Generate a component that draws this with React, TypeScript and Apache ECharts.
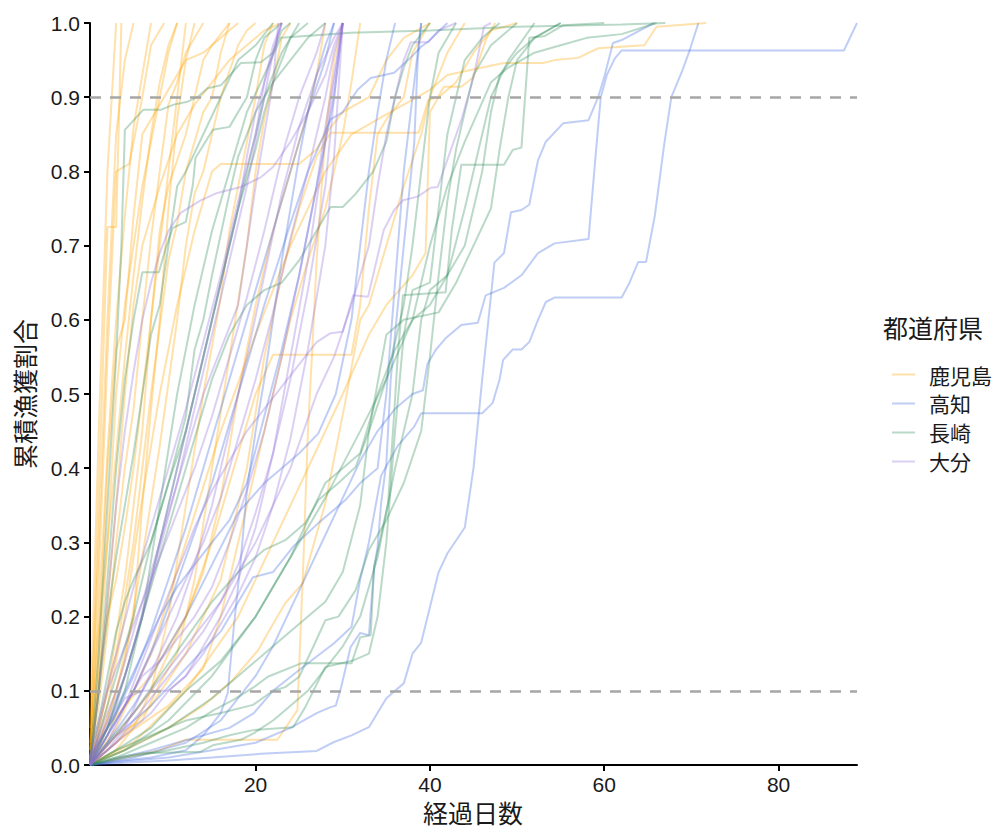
import React, { useEffect, useRef } from "react";
import * as echarts from "echarts";

type Line = number[][];

const prefectures = ["鹿児島", "高知", "長崎", "大分"];
const prefColors = ["#FFA500", "#4169E1", "#2E8B57", "#9370DB"];
const xTicks = [20, 40, 60, 80];
const refLevels = [0.1, 0.9];

const kagoshimaLines: Line[] = [
  [[1,0],[2,0.36],[3,0.725],[4,0.725],[4.6,1]],
  [[1,0],[2,0.25],[3,0.55],[4,0.8],[5.5,0.81],[7,0.9],[8,0.97],[9.5,1]],
  [[1,0.02],[2,0.2],[3,0.42],[4,0.6],[5,0.74],[6,0.86],[7,0.93],[8,1]],
  [[1,0],[2,0.12],[3,0.3],[4,0.5],[5,0.62],[6,0.7],[7,0.78],[8,0.84],[9,0.9],[10,0.96],[11,1]],
  [[1,0.01],[2,0.08],[3,0.18],[4,0.3],[5,0.4],[6,0.48],[7,0.6],[8,0.71],[9,0.8],[10,0.89],[11,0.92],[12,0.96],[13,0.98],[14,1]],
  [[1,0],[3,0.1],[5,0.25],[7,0.45],[8,0.6],[9,0.72],[10,0.78],[12,0.85],[13,0.9],[14,0.95],[15,0.97],[17,1]],
  [[1,0],[2,0.05],[4,0.15],[6,0.3],[8,0.5],[10,0.68],[11,0.73],[12,0.8],[14,0.88],[15,0.9],[16,0.96],[17,1]],
  [[1,0],[3,0.06],[5,0.14],[7,0.28],[9,0.43],[11,0.6],[12,0.7],[13,0.77],[14,0.8],[16,0.9],[18,0.97],[19,0.99],[20,1]],
  [[1,0],[2,0.15],[3,0.4],[4,0.56],[5,0.6],[6,0.74],[7,0.85],[9,0.89],[12,0.95],[14,0.96],[16,0.98],[18,1]],
  [[1,0],[2,0.03],[4,0.1],[6,0.2],[7,0.35],[8,0.48],[9,0.6],[10,0.75],[11,0.87],[12,0.95],[13,1]],
  [[1,0],[4,0.02],[6,0.05],[8,0.1],[10,0.2],[12,0.35],[14,0.5],[16,0.63],[17,0.72],[18,0.78],[19,0.84],[20,0.9],[21,0.97],[22,1]],
  [[1,0],[4,0.04],[7,0.06],[9,0.11],[11,0.15],[13,0.25],[15,0.4],[17,0.55],[19,0.7],[20,0.8],[21,0.87],[22,0.92],[23,0.98],[24,1]],
  [[1,0],[3,0.08],[5,0.2],[7,0.36],[9,0.5],[11,0.62],[13,0.72],[15,0.8],[16,0.81],[25,0.81],[27,0.83],[28,0.85],[30,0.88],[33,0.9],[35,0.95],[37,0.98],[40,1]],
  [[1,0],[5,0.01],[9,0.02],[12,0.034],[22.5,0.034],[24,0.06],[24.8,0.074],[25.5,0.28],[26,0.45],[26.5,0.56],[27,0.68],[28,0.85],[29,0.95],[30,1]],
  [[1,0],[4,0.03],[8,0.08],[12,0.15],[16,0.25],[19,0.4],[21,0.55],[23,0.66],[25,0.75],[27,0.82],[28.6,0.852],[38.7,0.852],[39.8,0.896],[40.9,0.9],[41.6,0.914],[43.6,0.914],[45,0.927],[46.4,0.977],[47.5,1]],
  [[1,0],[4,0.05],[8,0.15],[12,0.3],[16,0.45],[20,0.58],[24,0.7],[28,0.8],[31,0.85],[34,0.87],[37,0.89],[40,0.91],[42,0.93],[46,0.94],[48.5,0.946],[53,0.946],[54.3,0.95],[57,0.953],[59.3,0.966],[64.6,0.97],[66,0.995],[71.7,1]],
  [[1,0],[5,0.02],[10,0.05],[14,0.08],[17.4,0.115],[20.3,0.155],[22,0.19],[23.4,0.218],[25.4,0.245],[28,0.353],[30.3,0.49],[32,0.6],[33,0.62],[35,0.7],[37,0.78],[39,0.85],[40,0.9],[42,0.96],[44,1]],
  [[1,0],[3,0.05],[5,0.08],[8,0.12],[10,0.16],[12,0.2],[14,0.26],[16,0.36],[18,0.5],[20,0.62],[22,0.72],[24,0.8],[26,0.88],[27,0.93],[28,1]],
  [[1,0],[2,0.1],[3,0.22],[4,0.35],[5,0.5],[6,0.62],[7,0.7],[9,0.78],[11,0.85],[13,0.89],[15,0.92],[17,0.95],[19,0.97],[21,0.99],[23,1]],
  [[1,0.03],[2,0.3],[3,0.6],[4,0.85],[5,0.95],[6,1]],
  [[1,0.05],[2,0.45],[3,0.8],[4,1]],
  [[1,0],[5,0.04],[10,0.08],[14,0.13],[16,0.2],[18,0.3],[20,0.4],[22,0.5],[24,0.6],[26,0.68],[28,0.75],[30,0.85],[31,0.92],[32,1]],
  [[1,0],[4,0.04],[8,0.1],[12,0.2],[15,0.3],[18,0.42],[20,0.5],[22,0.553],[31,0.553],[32,0.62],[33,0.75],[34,0.85],[35,0.87],[37,0.9],[38,0.96],[40,1]],
  [[1,0],[6,0.03],[12,0.1],[18,0.2],[22,0.3],[26,0.4],[30,0.5],[33,0.58],[35,0.62],[38,0.66],[39.5,0.69],[40,0.88],[41,0.9],[43,0.92],[45,0.96],[47,0.99],[50,1]],
  [[1,0.02],[2,0.18],[3,0.3],[4,0.42],[5,0.55],[6,0.66],[7,0.76],[8,0.85],[9,0.92],[10,0.97],[11,1]],
  [[1,0.01],[2,0.12],[3,0.2],[4,0.25],[5,0.32],[6,0.4],[7,0.5],[8,0.6],[9,0.7],[10,0.8],[11,0.9],[12,1]],
];

const kochiLines: Line[] = [
  [[1,0],[5,0.003],[10,0.006],[15,0.01],[20.6,0.015],[27,0.019],[29,0.031],[31,0.04],[33,0.051],[35,0.09],[37,0.11],[38,0.15],[39,0.165],[41,0.26],[42,0.285],[44,0.32],[45,0.4],[46,0.52],[47.4,0.677],[48.5,0.69],[49.3,0.745],[50.5,0.748],[51.4,0.755],[52.4,0.815],[53.3,0.84],[55.3,0.865],[58.2,0.869],[59.3,0.9],[60,0.927],[61,0.973],[62,0.977],[65.7,1]],
  [[1,0],[8,0.02],[14,0.04],[17,0.05],[19.8,0.07],[22,0.1],[25,0.128],[29,0.164],[31,0.186],[32,0.25],[33,0.3],[34.4,0.39],[36.3,0.43],[38.2,0.456],[39,0.474],[46,0.474],[47.2,0.488],[48,0.52],[48.4,0.546],[49.5,0.56],[50.5,0.56],[51.4,0.57],[52.4,0.6],[53.3,0.624],[54.3,0.63],[62,0.63],[62.9,0.65],[63.9,0.678],[64.8,0.678],[65.8,0.74],[66.9,0.838],[67.7,0.9],[68.9,0.934],[69.8,0.963],[70.8,1]],
  [[1,0],[5,0.005],[10,0.01],[15,0.02],[20,0.03],[24,0.05],[27,0.07],[28.6,0.078],[29.2,0.08],[29.8,0.104],[30.9,0.159],[32,0.178],[33,0.175],[33.6,0.267],[34,0.294],[34.4,0.353],[35,0.407],[35.5,0.519],[35.9,0.569],[37,0.7],[38.2,0.838],[38.6,0.95],[39,1]],
  [[1,0],[6,0.01],[12,0.03],[16,0.06],[18,0.09],[20,0.12],[22,0.16],[24,0.21],[26,0.26],[28,0.31],[30,0.36],[32,0.41],[34,0.45],[36,0.48],[38,0.5],[39.2,0.505],[39.7,0.54],[40.7,0.56],[41.8,0.575],[43.6,0.593],[45.5,0.596],[46.4,0.633],[48.5,0.643],[50.5,0.66],[52.4,0.69],[54.3,0.703],[58.2,0.709],[59,0.82],[59.6,0.9],[60.3,0.93],[61.2,0.952],[62,0.963],[87.5,0.963],[89,1]],
  [[1,0],[4,0.005],[8,0.01],[12,0.02],[14,0.04],[16,0.07],[16.8,0.097],[17.5,0.186],[18.3,0.276],[19,0.37],[20,0.45],[21,0.52],[22,0.6],[23,0.68],[24,0.75],[25,0.82],[26,0.88],[27,0.93],[28,0.97],[29,1]],
  [[1,0],[2,0.03],[4,0.07],[6,0.12],[8,0.18],[10,0.25],[12,0.32],[14,0.4],[16,0.48],[18,0.56],[20,0.64],[22,0.72],[24,0.8],[26,0.88],[28,0.95],[29,1]],
  [[1,0.01],[3,0.05],[5,0.1],[7,0.15],[9,0.2],[11,0.24],[13,0.27],[15,0.3],[17,0.33],[19,0.38],[21,0.47],[23,0.56],[25,0.66],[27,0.78],[29,0.9],[30,1]],
  [[1,0],[3,0.04],[6,0.1],[9,0.18],[12,0.28],[15,0.38],[18,0.5],[21,0.62],[24,0.73],[26,0.8],[28.6,0.87],[30,0.88],[31.7,0.91],[33.2,0.926],[35.9,0.933],[37.5,0.95],[39,0.968],[39.8,0.975],[42,1]],
  [[1,0],[4,0.04],[8,0.08],[12,0.13],[16,0.18],[19.7,0.253],[22,0.26],[24.3,0.294],[27.2,0.326],[30.3,0.357],[32,0.38],[34,0.4],[35,0.5],[36,0.65],[37,0.8],[38,0.9],[39,1]],
  [[1,0],[3,0.03],[6,0.08],[9,0.14],[12,0.2],[15,0.27],[18,0.34],[21,0.38],[23,0.4],[25,0.42],[27.2,0.447],[29.2,0.5],[31,0.6],[32,0.7],[33,0.8],[34,0.88],[35,0.95],[36,1]],
];

const nagasakiLines: Line[] = [
  [[1,0],[2,0.15],[3,0.35],[4,0.55],[4.6,0.7],[5,0.856],[7.1,0.883],[9.1,0.883],[10.6,0.89],[12.2,0.894],[13.3,0.9],[14.5,0.912],[16,0.916],[17.1,0.93],[18.3,0.946],[20.6,0.947],[22,0.96],[23,0.99],[24,1]],
  [[1,0],[3,0.04],[5,0.1],[7,0.2],[9,0.35],[11,0.5],[13,0.62],[15,0.72],[17,0.8],[19,0.88],[21,0.93],[22.9,0.98],[30.9,0.987],[40,0.99],[50,0.995],[62,0.998],[67,1]],
  [[1,0],[4,0.01],[8,0.03],[12,0.05],[15.2,0.074],[17.5,0.088],[19.8,0.105],[21.4,0.119],[25.2,0.137],[31,0.137],[32,0.172],[33.2,0.175],[33.6,0.267],[35.2,0.353],[35.9,0.474],[36.3,0.55],[36.9,0.633],[41.8,0.637],[42.5,0.72],[43.6,0.809],[48.5,0.809],[49.5,0.829],[50.5,0.832],[51.4,0.98],[53.1,0.982],[55.3,0.997],[60,1]],
  [[1,0],[5,0.02],[10,0.05],[15,0.09],[18,0.12],[22,0.16],[26,0.2],[28,0.22],[30,0.26],[32,0.35],[33,0.45],[35,0.58],[37,0.6],[41,0.61],[43,0.65],[45,0.7],[47,0.75],[48,0.83],[49,0.9],[50,0.95],[52,0.98],[55,1]],
  [[1,0],[3,0.05],[5,0.12],[7,0.2],[9,0.28],[11,0.36],[13,0.44],[15,0.52],[17,0.58],[19,0.62],[21,0.64],[23,0.65],[25,0.68],[27,0.72],[28.6,0.752],[30,0.752],[31.5,0.77],[33.5,0.8],[35,0.84],[36,0.9],[37,0.94],[38,0.97],[40,1]],
  [[1,0],[4,0.02],[8,0.05],[12,0.1],[16,0.14],[20,0.2],[24,0.28],[26,0.33],[28,0.38],[30,0.4],[32,0.42],[34,0.5],[36,0.56],[38,0.6],[40,0.62],[42,0.66],[44,0.7],[46,0.8],[47,0.88],[48,0.93],[50,0.96],[52,0.98],[55,1]],
  [[1,0],[5,0.01],[10,0.02],[14,0.03],[17,0.04],[19.7,0.047],[24.3,0.051],[25.7,0.078],[28,0.132],[31.2,0.141],[33,0.15],[34,0.2],[35,0.3],[36,0.45],[37,0.58],[38,0.64],[40,0.65],[41,0.75],[42,0.85],[43,0.9],[44,0.95],[46,0.98],[48,1]],
  [[1,0],[4,0.02],[8,0.04],[12,0.06],[16,0.07],[19.7,0.081],[22,0.1],[23.4,0.105],[25,0.119],[26.6,0.159],[28,0.195],[29.5,0.2],[31.5,0.236],[33,0.29],[35,0.33],[37,0.38],[39,0.45],[40,0.55],[41,0.66],[42,0.76],[43,0.83],[44,0.88],[45,0.93],[47,0.97],[50,1]],
  [[1,0],[3,0.03],[6,0.07],[9,0.12],[12,0.17],[15,0.22],[18,0.26],[21,0.29],[23.4,0.303],[25.7,0.326],[27.2,0.357],[29.5,0.38],[31.5,0.402],[33,0.45],[35,0.52],[37,0.62],[38,0.7],[39,0.8],[40,0.9],[41,0.96],[43,1]],
  [[1,0],[2,0.1],[3,0.2],[4,0.28],[5,0.35],[6,0.42],[7,0.5],[8,0.58],[9,0.62],[10,0.7],[11,0.78],[12,0.8],[14,0.85],[16,0.9],[18,0.95],[20,0.97],[22,1]],
  [[1,0],[3,0.05],[5,0.12],[7,0.2],[9,0.3],[11,0.4],[13,0.5],[15,0.6],[17,0.7],[19,0.8],[21,0.9],[23,0.96],[25,1]],
  [[1,0],[2,0.04],[4,0.12],[6,0.2],[8,0.3],[10,0.38],[12,0.47],[13,0.56],[14,0.6],[15,0.66],[17,0.77],[18,0.82],[20,0.88],[22,0.92],[24,0.95],[26,0.98],[28,1]],
  [[1,0],[2,0.1],[3,0.25],[4,0.4],[5,0.52],[6,0.6],[7,0.664],[8.9,0.664],[9.7,0.697],[10.5,0.724],[12,0.732],[12.8,0.782],[13.1,0.818],[15.1,0.856],[17,0.86],[19,0.9],[20,0.95],[21,0.98],[23,1]],
  [[1,0],[4,0.01],[7.1,0.016],[13.7,0.018],[15.2,0.027],[18.3,0.034],[19.8,0.043],[22,0.06],[24,0.08],[26,0.1],[28,0.13],[30,0.16],[32,0.2],[34,0.28],[36,0.4],[38,0.5],[39,0.6],[40,0.64],[42,0.66],[44,0.75],[46,0.85],[47,0.9],[49,0.95],[52,1]],
  [[1,0.01],[2,0.06],[3,0.12],[4,0.18],[5,0.22],[6,0.25],[8,0.3],[10,0.38],[12,0.45],[14,0.55],[16,0.65],[18,0.75],[20,0.83],[21,0.88],[22,0.92],[23,0.95],[24,0.98],[26,1]],
  [[1,0],[5,0.02],[10,0.06],[15,0.12],[20,0.2],[24,0.28],[28,0.36],[32,0.45],[35,0.52],[38,0.6],[40,0.7],[42,0.78],[44,0.84],[45.5,0.88],[47,0.92],[49,0.94],[52,0.96],[55,0.97],[58,0.98],[62,0.985],[66,1]],
];

const oitaLines: Line[] = [
  [[1,0],[3,0.03],[5,0.08],[7,0.14],[9,0.2],[11,0.26],[13,0.32],[15,0.37],[17,0.41],[19,0.45],[21,0.48],[23,0.51],[25,0.54],[27,0.57],[28.6,0.582],[30,0.584],[31.2,0.633],[32.9,0.631],[33.8,0.676],[34.7,0.721],[35.9,0.748],[36.9,0.761],[38.6,0.766],[40.1,0.778],[40.9,0.779],[42.4,0.829],[43.6,0.869],[45,0.927],[46.2,0.995],[47,1]],
  [[1,0],[2,0.1],[3,0.22],[4,0.35],[5,0.45],[6,0.53],[7,0.6],[8,0.65],[9,0.69],[10,0.72],[11.4,0.744],[13.7,0.761],[15.6,0.771],[18.3,0.779],[20.6,0.792],[22,0.806],[24,0.84],[26,0.88],[28,0.93],[29,0.97],[30,1]],
  [[1,0],[3,0.02],[5,0.05],[7,0.1],[9,0.15],[11,0.2],[13,0.27],[15,0.35],[17,0.45],[19,0.55],[21,0.66],[23,0.77],[25,0.86],[27,0.93],[29,0.98],[30,1]],
  [[1,0],[2,0.02],[4,0.06],[6,0.1],[8,0.15],[10,0.2],[12,0.25],[14,0.3],[16,0.36],[18,0.44],[20,0.52],[22,0.61],[24,0.71],[26,0.8],[28,0.9],[29,0.96],[30,1]],
  [[1,0.01],[3,0.06],[5,0.12],[7,0.2],[9,0.29],[11,0.38],[13,0.48],[15,0.58],[17,0.68],[19,0.78],[20,0.84],[21,0.9],[22,0.96],[23,1]],
  [[1,0],[2,0.03],[4,0.08],[6,0.16],[8,0.25],[10,0.35],[12,0.45],[14,0.55],[16,0.65],[18,0.75],[19,0.82],[20,0.88],[21,0.92],[22,0.96],[23,1]],
  [[1,0],[3,0.04],[5,0.08],[7,0.12],[9,0.14],[11,0.17],[13,0.2],[15,0.24],[17,0.3],[19,0.37],[21,0.45],[23,0.55],[25,0.66],[27,0.78],[28,0.86],[29,0.93],[30,1]],
  [[1,0],[3,0.05],[5,0.09],[7,0.1],[10,0.1],[12,0.12],[14,0.16],[16,0.2],[18,0.25],[20,0.32],[22,0.42],[24,0.55],[26,0.68],[27,0.76],[28,0.84],[29,0.92],[30,1]],
  [[1,0],[2,0.04],[4,0.1],[6,0.18],[8,0.26],[10,0.34],[12,0.42],[14,0.5],[16,0.56],[18,0.62],[19,0.7],[20,0.78],[21,0.85],[22,0.92],[22.6,1]],
  [[1,0],[4,0.04],[8,0.1],[12,0.16],[16,0.22],[20,0.3],[24,0.4],[27,0.5],[29,0.55],[31,0.62],[33,0.7],[34,0.78],[35,0.85],[36,0.9],[37,0.95],[37.8,0.974],[39.8,0.974],[41,0.99],[43,1]],
  [[1,0],[2,0.01],[4,0.03],[6,0.06],[8,0.09],[10,0.12],[12,0.15],[14,0.18],[16,0.22],[18,0.27],[20,0.34],[22,0.42],[24,0.52],[26,0.64],[28,0.78],[29,0.9],[30,1]],
  [[1,0],[2,0.05],[3,0.1],[5,0.16],[7,0.22],[9,0.28],[11,0.34],[13,0.4],[15,0.47],[17,0.55],[19,0.63],[21,0.72],[23,0.82],[25,0.9],[27,0.96],[28,1]],
  [[1,0],[3,0.02],[5,0.04],[8,0.07],[10,0.1],[12,0.12],[14,0.15],[16,0.19],[18,0.23],[20,0.28],[22,0.35],[24,0.44],[26,0.56],[28,0.7],[29,0.82],[30,1]],
  [[1,0.01],[2,0.06],[4,0.15],[6,0.24],[8,0.32],[10,0.4],[12,0.48],[14,0.57],[16,0.66],[18,0.76],[20,0.85],[21,0.92],[22,0.97],[23,1]],
];

const allGroups: Line[][] = [kagoshimaLines, kochiLines, nagasakiLines, oitaLines];

const FONT = "'Liberation Sans', Arial, 'Noto Sans CJK JP', sans-serif";
const CJK = "'Noto Sans CJK JP', sans-serif";

export default function App() {
  const ref = useRef<HTMLDivElement>(null);
  useEffect(() => {
    if (!ref.current) return;
    const chart = echarts.init(ref.current, null, { renderer: "svg" });
    const series: any[] = [];
    allGroups.forEach((lines, gi) => {
      lines.forEach((ln) => {
        series.push({
          type: "line",
          name: prefectures[gi],
          data: ln,
          symbol: "none",
          showSymbol: false,
          silent: true,
          color: prefColors[gi],
          itemStyle: { color: prefColors[gi], opacity: 0.33 },
          lineStyle: { color: prefColors[gi], width: 2, opacity: 0.33 },
        });
      });
    });
    series.push({
      type: "line",
      name: "ref",
      data: [],
      silent: true,
      markLine: {
        silent: true,
        symbol: "none",
        label: { show: false },
        lineStyle: { color: "#a6a6a6", width: 2.5, type: [11, 9] },
        data: refLevels.map((v) => ({ yAxis: v })),
      },
    });
    chart.setOption({
      animation: false,
      backgroundColor: "#ffffff",
      grid: { left: 90, right: 141, top: 23, bottom: 65, containLabel: false },
      xAxis: {
        type: "value",
        min: 1,
        max: 89,
        splitLine: { show: false },
        axisLine: { show: true, onZero: false, lineStyle: { color: "#000", width: 2 } },
        axisTick: { show: true, length: 6, lineStyle: { color: "#000", width: 2 }, customValues: xTicks },
        axisLabel: { color: "#1a1a1a", fontSize: 21, fontFamily: FONT, margin: 9, customValues: xTicks },
      },
      yAxis: {
        type: "value",
        min: 0,
        max: 1,
        interval: 0.1,
        splitLine: { show: false },
        axisLine: { show: true, lineStyle: { color: "#000", width: 2 } },
        axisTick: { show: true, length: 6, lineStyle: { color: "#000", width: 2 } },
        axisLabel: { color: "#1a1a1a", fontSize: 21, fontFamily: FONT, margin: 10, formatter: (v: number) => v.toFixed(1) },
      },
      legend: {
        data: prefectures.map((p) => ({ name: p, icon: "rect" })),
        orient: "vertical",
        left: 887,
        top: 359,
        itemWidth: 23,
        itemHeight: 2,
        itemGap: 8,
        selectedMode: false,
        itemStyle: { opacity: 0.33 },
        textStyle: { fontSize: 21, fontFamily: CJK, color: "#1a1a1a", lineHeight: 20, height: 20, padding: [0, 0, 0, 9] },
      },
      graphic: [
        {
          type: "text",
          left: 883,
          top: 314,
          style: { text: "都道府県", fontSize: 25, fontFamily: CJK, fill: "#1a1a1a" },
        },
        {
          type: "text",
          x: 473,
          y: 812,
          style: { text: "経過日数", fontSize: 25, fontFamily: CJK, fill: "#1a1a1a", align: "center", verticalAlign: "middle" },
        },
        {
          type: "text",
          x: 24,
          y: 394,
          rotation: Math.PI / 2,
          style: { text: "累積漁獲割合", fontSize: 25, fontFamily: CJK, fill: "#1a1a1a", align: "center", verticalAlign: "middle" },
        },
      ],
      series,
    });
    return () => chart.dispose();
  }, []);
  return (
    <div
      ref={ref}
      style={{ position: "fixed", left: 0, top: 0, width: 998, height: 830, background: "#fff" }}
    />
  );
}
